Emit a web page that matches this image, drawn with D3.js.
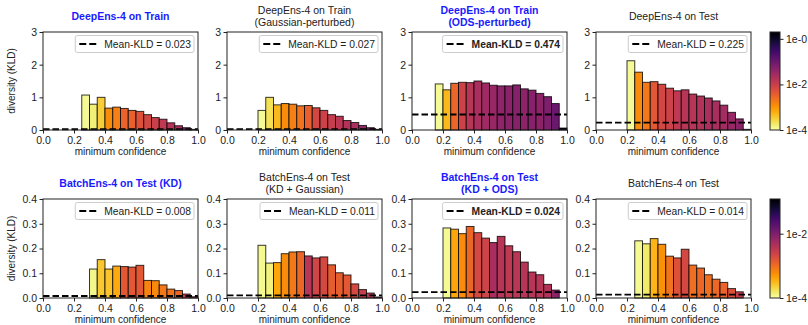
<!DOCTYPE html>
<html>
<head>
<meta charset="utf-8">
<script src="https://cdn.jsdelivr.net/npm/d3@7/dist/d3.min.js"></script>
<style>
  body { margin: 0; background: #fff; }
  text { font-family: "Liberation Sans", Arial, sans-serif; fill: #222; }
</style>
</head>
<body>
<svg id="chart" width="808" height="325"></svg>
<script>
// ━━━━━━━━━━━━━━━━━━━━━━━━━━━━━━━━━━━━━━━━━━━━━━━━━━━━━━━━━━━━━━━━━━━━━━━━━
// Data ////////////////////////////////////////////////////////////////////
// ━━━━━━━━━━━━━━━━━━━━━━━━━━━━━━━━━━━━━━━━━━━━━━━━━━━━━━━━━━━━━━━━━━━━━━━━━

const binStarts = [0, 0.05, 0.1, 0.15, 0.2, 0.25, 0.3, 0.35, 0.4, 0.45,
                   0.5, 0.55, 0.6, 0.65, 0.7, 0.75, 0.8, 0.85, 0.9, 0.95];
const binWidth = 0.05;

const xTicks = [0, 0.2, 0.4, 0.6, 0.8, 1.0];
const yTicksTop = [0, 1, 2, 3];
const yTicksBottom = [0, 0.1, 0.2, 0.3, 0.4];
const cbTicksTop = [1, 1e-2, 1e-4];
const cbLabelsTop = ['1e-0', '1e-2', '1e-4'];
const cbTicksBottom = [1e-2, 1e-4];
const cbLabelsBottom = ['1e-2', '1e-4'];

// diversity (KLD) per bin
const deepTrain       = [0,0,0,0,0, 1.07,0.79,1.0,0.67,0.7, 0.66,0.6,0.57,0.47,0.38, 0.33,0.22,0.13,0.07,0.02];
const deepGauss       = [0,0,0,0, 0.6,1.0,0.77,0.81,0.79,0.74, 0.75,0.68,0.6,0.47,0.42, 0.29,0.23,0.14,0.07,0.02];
const deepODS         = [0,0,0, 1.41,1.23,1.43,1.46,1.45,1.5,1.44, 1.37,1.35,1.35,1.38,1.26, 1.22,1.12,1.02,0.81,0.06];
const deepTest        = [0,0,0,0, 2.12,1.77,1.46,1.48,1.4,1.28, 1.2,1.23,1.1,1.04,0.98, 0.89,0.76,0.54,0.34,0.02];
const batchKD         = [0,0,0,0,0,0, 0.117,0.155,0.117,0.129, 0.127,0.125,0.132,0.071,0.07, 0.053,0.036,0.03,0.016,0.005];
const batchKDGauss    = [0,0,0,0, 0.213,0.141,0.143,0.179,0.186,0.187, 0.17,0.162,0.166,0.134,0.102, 0.093,0.057,0.034,0.02,0.004];
const batchKDODS      = [0,0,0,0, 0.283,0.278,0.26,0.289,0.264,0.242, 0.224,0.249,0.211,0.187,0.145, 0.105,0.094,0.055,0.032,0];
const batchTest       = [0,0,0,0,0, 0.231,0.219,0.24,0.217,0.169, 0.162,0.197,0.133,0.121,0.094, 0.076,0.063,0.038,0.025,0];

// colour value per bin (log colour scale)
const deepTrainC      = [0,0,0,0,0, 1.2e-4,1.6e-4,3.3e-4,1.2e-3,1.6e-3, 3.2e-3,3.5e-3,5.2e-3,7.1e-3,9.5e-3, 1.3e-2,1.6e-2,2.1e-2,5.6e-2,0.15];
const deepGaussC      = [0,0,0,0, 1.2e-4,2.2e-4,4.9e-4,1.2e-3,1.6e-3,2.15e-3, 3.5e-3,7.1e-3,8.6e-3,1.05e-2,1.41e-2, 1.72e-2,2.1e-2,3.8e-2,6.2e-2,0.185];
const deepODSC        = [0,0,0, 1.2e-4,4.9e-4,2.9e-3,8.6e-3,1.56e-2,2.1e-2,2.8e-2, 3.4e-2,4.2e-2,4.6e-2,5.1e-2,4.6e-2, 5.1e-2,4.6e-2,6.2e-2,0.102,1.48];
const deepTestC       = [0,0,0,0, 1.2e-4,1.19e-3,1.95e-3,4.3e-3,7.1e-3,8.6e-3, 1.28e-2,1.56e-2,1.56e-2,1.72e-2,2.1e-2, 2.3e-2,2.6e-2,3.4e-2,4.6e-2,0.102];
const batchKDC        = [0,0,0,0,0,0, 1.24e-4,2.5e-4,2.7e-4,3.8e-4, 1.48e-3,1.48e-3,1.48e-3,6.8e-4,6.3e-4, 8.4e-4,9e-4,1.11e-3,2.8e-3,3.5e-3];
const batchKDGaussC   = [0,0,0,0, 1.15e-4,1.33e-4,4.1e-4,5.9e-4,8.4e-4,1.11e-3, 3.7e-3,2.26e-3,2.1e-3,1.38e-3,1.29e-3, 1.48e-3,2.1e-3,2.8e-3,3.7e-3,4.9e-3];
const batchKDODSC     = [0,0,0,0, 1.15e-4,4.1e-4,5.9e-4,1.11e-3,2.1e-3,2.4e-3, 4.9e-3,3.7e-3,3.2e-3,3.5e-3,3.7e-3, 3.7e-3,3.7e-3,4e-3,8.1e-3,7e-3];
const batchTestC      = [0,0,0,0,0, 1.15e-4,1.53e-4,3.3e-4,5.5e-4,9e-4, 1.7e-3,2.1e-3,9.7e-4,1.11e-3,9.7e-4, 1.11e-3,1.2e-3,1.7e-3,2.8e-3,3.5e-3];

const meanKLD = [0.023, 0.027, 0.474, 0.225, 0.008, 0.011, 0.024, 0.014];

const titles = [
  ['DeepEns-4 on Train'],
  ['DeepEns-4 on Train', '(Gaussian-perturbed)'],
  ['DeepEns-4 on Train', '(ODS-perturbed)'],
  ['DeepEns-4 on Test'],
  ['BatchEns-4 on Test (KD)'],
  ['BatchEns-4 on Test', '(KD + Gaussian)'],
  ['BatchEns-4 on Test', '(KD + ODS)'],
  ['BatchEns-4 on Test']
];
const highlightTitle = [true, false, true, false, true, false, true, false];
const boldLegend = [false, false, true, false, false, false, true, false];

const heights = [deepTrain, deepGauss, deepODS, deepTest, batchKD, batchKDGauss, batchKDODS, batchTest];
const colours = [deepTrainC, deepGaussC, deepODSC, deepTestC, batchKDC, batchKDGaussC, batchKDODSC, batchTestC];

// ━━━━━━━━━━━━━━━━━━━━━━━━━━━━━━━━━━━━━━━━━━━━━━━━━━━━━━━━━━━━━━━━━━━━━━━━━
// Layout //////////////////////////////////////////////////////////////////
// ━━━━━━━━━━━━━━━━━━━━━━━━━━━━━━━━━━━━━━━━━━━━━━━━━━━━━━━━━━━━━━━━━━━━━━━━━

const colLeft = [43, 227, 412, 596];
const axW = 155;
const rows = [
  { top: 32, bottom: 130, yDomain: [0, 3], yTicks: yTicksTop, fmt: d3.format('d'),
    cDomain: [1e-4, 2], cbTicks: cbTicksTop, cbLabels: cbLabelsTop },
  { top: 199, bottom: 298, yDomain: [0, 0.4], yTicks: yTicksBottom, fmt: d3.format('.1f'),
    cDomain: [1e-4, 0.12], cbTicks: cbTicksBottom, cbLabels: cbLabelsBottom }
];
const cbX = 770, cbW = 10;

const svg = d3.select('#chart');
const defs = svg.append('defs');

function fillFor(row, v) {
  const t = d3.scaleLog().domain(row.cDomain).range([0, 1]).clamp(true)(v);
  return d3.interpolateInferno(1 - t);
}

// ━━━━━━━━━━━━━━━━━━━━━━━━━━━━━━━━━━━━━━━━━━━━━━━━━━━━━━━━━━━━━━━━━━━━━━━━━
// Panels //////////////////////////////////////////////////////////////////
// ━━━━━━━━━━━━━━━━━━━━━━━━━━━━━━━━━━━━━━━━━━━━━━━━━━━━━━━━━━━━━━━━━━━━━━━━━

heights.forEach((vals, i) => {
  const row = rows[Math.floor(i / 4)];
  const col = i % 4;
  const x = d3.scaleLinear().domain([0, 1]).range([colLeft[col], colLeft[col] + axW]);
  const y = d3.scaleLinear().domain(row.yDomain).range([row.bottom, row.top]);
  const g = svg.append('g');

  const bins = binStarts.map((b, j) => ({ x0: b, h: vals[j], c: colours[i][j] }))
    .filter(d => d.h > 0);

  g.selectAll('rect.bar')
    .data(bins)
    .join('rect')
    .attr('class', 'bar')
    .attr('x', d => x(d.x0))
    .attr('width', d => x(d.x0 + binWidth) - x(d.x0))
    .attr('y', d => y(d.h))
    .attr('height', d => y(0) - y(d.h))
    .attr('fill', d => fillFor(row, d.c))
    .attr('stroke', '#000')
    .attr('stroke-opacity', 0.78)
    .attr('stroke-width', 1);

  // mean line
  g.append('line')
    .attr('x1', x(0)).attr('x2', x(1))
    .attr('y1', y(meanKLD[i])).attr('y2', y(meanKLD[i]))
    .attr('stroke', '#000')
    .attr('stroke-width', 1.8)
    .attr('stroke-dasharray', '6.5,3');

  // axes
  const xAxis = g.append('g')
    .attr('transform', `translate(0,${row.bottom})`)
    .call(d3.axisBottom(x).tickValues(xTicks).tickFormat(d3.format('.1f')).tickSize(3.5).tickPadding(3.5));
  const yAxis = g.append('g')
    .attr('transform', `translate(${colLeft[col]},0)`)
    .call(d3.axisLeft(y).tickValues(row.yTicks).tickFormat(row.fmt).tickSize(3.5).tickPadding(2.5));
  [xAxis, yAxis].forEach(a => {
    a.select('.domain').remove();
    a.selectAll('line').attr('stroke', '#222');
    a.selectAll('text').attr('font-size', 10.5).attr('font-family', '"Liberation Sans", Arial, sans-serif').attr('fill', '#222');
  });

  g.append('rect')
    .attr('x', colLeft[col]).attr('y', row.top)
    .attr('width', axW).attr('height', row.bottom - row.top)
    .attr('fill', 'none').attr('stroke', '#222').attr('stroke-width', 1);

  g.append('text')
    .attr('x', colLeft[col] + axW / 2).attr('y', row.bottom + 25)
    .attr('text-anchor', 'middle').attr('font-size', 10)
    .text('minimum confidence');

  if (col === 0) {
    g.append('text')
      .attr('transform', `translate(15,${(row.top + row.bottom) / 2}) rotate(-90)`)
      .attr('text-anchor', 'middle').attr('font-size', 10)
      .text('diversity (KLD)');
  }

  // title
  const t = titles[i];
  const baselines = t.length === 1 ? [row.top - 12] : [row.top - 18.5, row.top - 6.5];
  t.forEach((line, k) => {
    g.append('text')
      .attr('x', colLeft[col] + axW / 2).attr('y', baselines[k])
      .attr('text-anchor', 'middle').attr('font-size', 10.5)
      .attr('font-weight', highlightTitle[i] ? 'bold' : 'normal')
      .style('fill', highlightTitle[i] ? '#1a1aff' : '#222')
      .text(line);
  });

  // legend
  const lg = g.append('g');
  const right = colLeft[col] + axW - 4;
  const boxTop = row.top + 3.5;
  const label = lg.append('text')
    .attr('y', boxTop + 12.5)
    .attr('font-size', 10.3)
    .attr('font-weight', boldLegend[i] ? 'bold' : 'normal')
    .text(`Mean-KLD = ${meanKLD[i].toFixed(3)}`);
  const tw = label.node().getComputedTextLength();
  const left = right - tw - 32;
  label.attr('x', left + 29);
  lg.insert('rect', 'text')
    .attr('x', left).attr('y', boxTop)
    .attr('width', right - left).attr('height', 17)
    .attr('rx', 2)
    .attr('fill', '#fff').attr('fill-opacity', 0.85)
    .attr('stroke', '#ccc').attr('stroke-width', 1);
  lg.append('line')
    .attr('x1', left + 4).attr('x2', left + 21)
    .attr('y1', boxTop + 8.5).attr('y2', boxTop + 8.5)
    .attr('stroke', '#000').attr('stroke-width', 1.8)
    .attr('stroke-dasharray', '7,3');
});

// ━━━━━━━━━━━━━━━━━━━━━━━━━━━━━━━━━━━━━━━━━━━━━━━━━━━━━━━━━━━━━━━━━━━━━━━━━
// Colorbars ///////////////////////////////////////////////////////////////
// ━━━━━━━━━━━━━━━━━━━━━━━━━━━━━━━━━━━━━━━━━━━━━━━━━━━━━━━━━━━━━━━━━━━━━━━━━

rows.forEach((row, r) => {
  const grad = defs.append('linearGradient')
    .attr('id', `cb-${r}`)
    .attr('x1', 0).attr('y1', 1).attr('x2', 0).attr('y2', 0);
  grad.selectAll('stop')
    .data(d3.range(0, 1.0001, 0.05))
    .join('stop')
    .attr('offset', d => d)
    .attr('stop-color', d => d3.interpolateInferno(1 - d));

  svg.append('rect')
    .attr('x', cbX).attr('y', row.top)
    .attr('width', cbW).attr('height', row.bottom - row.top)
    .attr('fill', `url(#cb-${r})`)
    .attr('stroke', '#222').attr('stroke-width', 1);

  const cScale = d3.scaleLog().domain(row.cDomain).range([row.bottom, row.top]);
  const ax = svg.append('g')
    .attr('transform', `translate(${cbX + cbW},0)`)
    .call(d3.axisRight(cScale).tickValues(row.cbTicks)
      .tickFormat((d, k) => row.cbLabels[k]).tickSize(3.5).tickPadding(2.5));
  ax.select('.domain').remove();
  ax.selectAll('line').attr('stroke', '#222');
  ax.selectAll('text').attr('font-size', 10.5).attr('font-family', '"Liberation Sans", Arial, sans-serif').attr('fill', '#222');
});
</script>
</body>
</html>
